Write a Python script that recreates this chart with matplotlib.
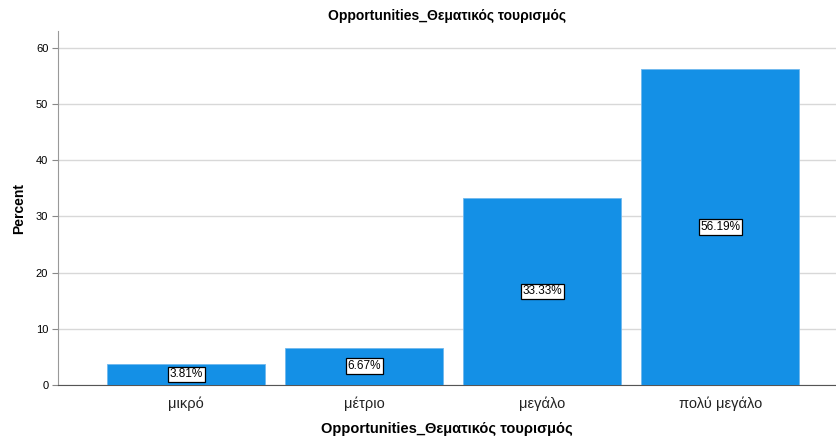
import matplotlib
matplotlib.use("Agg")
import matplotlib.pyplot as plt

categories = ["μικρό", "μέτριο", "μεγάλο", "πολύ μεγάλο"]
percents = [3.81, 6.67, 33.33, 56.19]
yticks = [0, 10, 20, 30, 40, 50, 60]

plt.rcParams['font.family'] = ['Liberation Sans', 'DejaVu Sans']

fig = plt.figure(figsize=(8.37, 4.38), dpi=100)
ax = fig.add_axes([0.0693, 0.121, 0.9295, 0.808])

x = list(range(len(categories)))
ax.bar(x, percents, width=0.89, color='#1490e6', edgecolor='#6fb8ee', linewidth=0.6, zorder=3)
for xi, v in zip(x, percents):
    ax.text(xi, v / 2, f"{v:.2f}%", ha='center', va='center', fontsize=8.5, zorder=4,
            bbox=dict(boxstyle='square,pad=0.15', facecolor='white', edgecolor='black', linewidth=0.9))

ax.set_xlim(-0.72, 3.65)
ax.set_ylim(0, 63)
ax.set_yticks(yticks)
ax.set_yticklabels([str(t) for t in yticks], fontsize=8)
ax.set_xticks(x)
ax.set_xticklabels(categories, fontsize=10.5, color='#222222')
ax.tick_params(axis='x', length=0, pad=8)
ax.tick_params(axis='y', length=4, color='#888888', pad=3)
ax.yaxis.grid(True, color='#d8d8d8', linewidth=1, zorder=0)
ax.set_axisbelow(True)
for s in ['top', 'right']:
    ax.spines[s].set_visible(False)
ax.spines['left'].set_color('#999999')
ax.spines['bottom'].set_color('#555555')

ax.set_title("Opportunities_Θεματικός τουρισμός", fontsize=10, fontweight='bold', pad=8)
ax.set_xlabel("Opportunities_Θεματικός τουρισμός", fontsize=10.5, fontweight='bold', labelpad=8)
ax.set_ylabel("Percent", fontsize=10, fontweight='bold', labelpad=7)

fig.savefig("out.png", dpi=100)
